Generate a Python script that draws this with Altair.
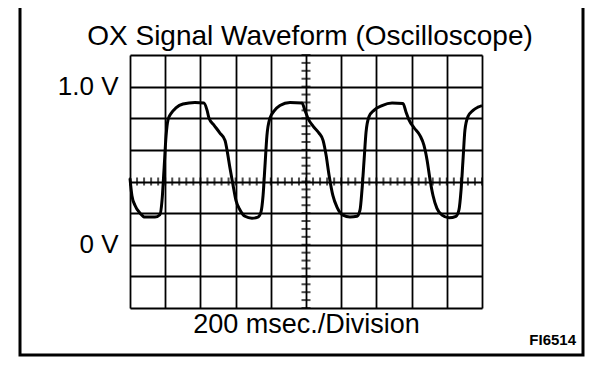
import altair as alt
import pandas as pd

# Waveform trace (time in ms, signal in volts)
t_ms = [0, 11, 28, 57, 85, 142, 170, 182, 193, 205, 216, 233, 261, 301, 369, 420,
        438, 449, 477, 511, 540, 551, 568, 585, 602, 625, 653, 693, 727, 744, 756,
        767, 778, 795, 818, 852, 909, 977, 994, 1011, 1040, 1074, 1097, 1114, 1131,
        1153, 1176, 1210, 1250, 1290, 1307, 1318, 1330, 1341, 1358, 1386, 1432,
        1489, 1551, 1568, 1585, 1614, 1648, 1670, 1688, 1705, 1722, 1744, 1773,
        1813, 1852, 1869, 1881, 1892, 1903, 1920, 1949, 1977, 2000]
volts = [0.42, 0.31, 0.25, 0.20, 0.175, 0.175, 0.19, 0.28, 0.47, 0.69, 0.79, 0.83,
         0.865, 0.89, 0.90, 0.896, 0.85, 0.80, 0.757, 0.706, 0.66, 0.60, 0.485,
         0.38, 0.28, 0.22, 0.18, 0.168, 0.175, 0.206, 0.31, 0.50, 0.69, 0.80, 0.845,
         0.88, 0.90, 0.896, 0.85, 0.80, 0.75, 0.706, 0.66, 0.567, 0.44, 0.31, 0.238,
         0.187, 0.175, 0.18, 0.22, 0.345, 0.535, 0.71, 0.81, 0.85, 0.88, 0.896,
         0.893, 0.84, 0.79, 0.74, 0.69, 0.63, 0.535, 0.41, 0.31, 0.23, 0.187, 0.17,
         0.18, 0.22, 0.345, 0.535, 0.725, 0.81, 0.85, 0.87, 0.88]

# Screen divisions
x_grid = [0, 200, 400, 600, 800, 1000, 1200, 1400, 1600, 1800, 2000]
y_grid = [-0.4, -0.2, 0.0, 0.2, 0.4, 0.6, 0.8, 1.0, 1.2]
x_minor = [i * 40 for i in range(51)]
y_minor = [round(-0.4 + i * 0.05, 3) for i in range(33)]
center_t = 1000
center_v = 0.4

title_text = "OX Signal Waveform (Oscilloscope)"
x_title = "200 msec./Division"
fig_code = "FI6514"

wave = pd.DataFrame({"t": t_ms, "v": volts})
hticks = pd.DataFrame({"t": x_minor, "v": [center_v] * len(x_minor)})
vticks = pd.DataFrame({"t": [center_t] * len(y_minor), "v": y_minor})

xs = alt.Scale(domain=[0, 2000], nice=False, zero=False)
ys = alt.Scale(domain=[-0.4, 1.2], nice=False, zero=False)

x_axis = alt.Axis(values=x_grid, tickCount=40, grid=True, gridColor="black", gridWidth=1.8,
                  gridOpacity=1, labels=False, ticks=False, tickSize=0, domain=False,
                  title=x_title, titleFont="Liberation Sans", titleFontSize=27,
                  titleFontWeight="normal", titleColor="black", titlePadding=3)
y_axis = alt.Axis(values=y_grid, tickCount=40, grid=True, gridColor="black", gridWidth=1.8,
                  gridOpacity=1, ticks=False, tickSize=0, domain=False, title="",
                  labelExpr="abs(datum.value - 1) < 0.001 ? '1.0 V' : (abs(datum.value) < 0.001 ? '0 V' : '')",
                  labelFont="Liberation Sans", labelFontSize=26, labelColor="black",
                  labelPadding=12, labelOverlap=False, labelBound=False)

line = alt.Chart(wave).mark_line(color="black", strokeWidth=3, interpolate="monotone").encode(
    x=alt.X("t:Q", scale=xs, axis=x_axis),
    y=alt.Y("v:Q", scale=ys, axis=y_axis),
)

htick = alt.Chart(hticks).mark_tick(color="black", orient="vertical", size=8, thickness=2).encode(
    x=alt.X("t:Q", scale=xs), y=alt.Y("v:Q", scale=ys))
vtick = alt.Chart(vticks).mark_tick(color="black", orient="horizontal", size=9, thickness=2).encode(
    x=alt.X("t:Q", scale=xs), y=alt.Y("v:Q", scale=ys))

deco = pd.DataFrame({"a": [0]})
border = alt.Chart(deco).mark_rect(fill="transparent", stroke="black", strokeWidth=3).encode(
    x=alt.value(-110), x2=alt.value(453), y=alt.value(-50), y2=alt.value(300))
title = alt.Chart(deco).mark_text(text=title_text, font="Liberation Sans", fontSize=28,
                                  color="black", align="center", baseline="alphabetic").encode(
    x=alt.value(180), y=alt.value(-10))
code = alt.Chart(deco).mark_text(text=fig_code, font="Liberation Sans", fontSize=15,
                                 fontWeight="bold", color="black", align="right",
                                 baseline="alphabetic").encode(
    x=alt.value(446), y=alt.value(290))

chart = alt.layer(htick, vtick, line, border, title, code).properties(
    width=352, height=253,
    autosize=alt.AutoSizeParams(type="none"),
    padding={"left": 122, "top": 47, "right": 110, "bottom": 50},
).configure_view(stroke="black", strokeWidth=2).configure(background="white")

chart.save("out.html", embed_options={"renderer": "svg", "actions": False})
